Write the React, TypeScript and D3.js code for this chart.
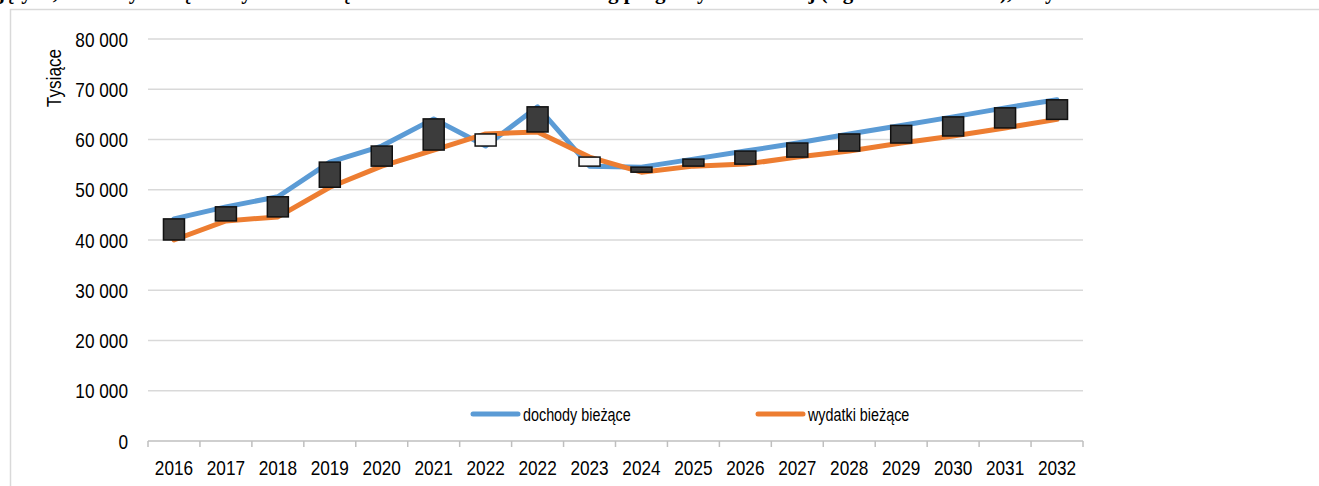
import React from "react";
import * as d3 from "d3";

const categories = ["2016","2017","2018","2019","2020","2021","2022","2022","2023","2024","2025","2026","2027","2028","2029","2030","2031","2032"];
const dochody = [44200, 46600, 48600, 55500, 58700, 64100, 58700, 66500, 54700, 54500, 56100, 57700, 59300, 61100, 62800, 64500, 66300, 67900];
const wydatki = [40000, 43800, 44600, 50500, 54700, 57900, 61100, 61500, 56500, 53500, 54700, 55100, 56500, 57700, 59300, 60700, 62300, 64000];
const yTicks = [0, 10000, 20000, 30000, 40000, 50000, 60000, 70000, 80000];
const seriesNames = ["dochody bieżące", "wydatki bieżące"];
const titleText = "jętych, dochody bieżące i wydatki bieżące w latach 2016–2032 według prognozy wieloletniej (wg stanu na 2022 r.), w tys. zł";

const W = 1319, H = 486;
const FONT = "'Liberation Sans', Arial, sans-serif";
const NARROW = 0.82;
const BLUE = "#5B9BD5", ORANGE = "#ED7D31", GRID = "#d9d9d9";

function NText(props: { x: number; y: number; size: number; anchor?: string; rotate?: number; children: React.ReactNode }) {
  const { x, y, size, anchor = "start", rotate = 0, children } = props;
  return (
    <text transform={`translate(${x},${y}) rotate(${rotate}) scale(${NARROW},1)`} textAnchor={anchor}
      fontFamily={FONT} fontSize={size} fill="#000">{children}</text>
  );
}

export default function App() {
  const idx = categories.map((_, i) => i);
  const x = d3.scaleBand<number>().domain(idx).range([148, 1083]).padding(0);
  const y = d3.scaleLinear().domain([0, 80000]).range([441, 39]);
  const cx = (i: number) => (x(i) as number) + x.bandwidth() / 2;
  const line = d3.line<number>().x((_, i) => cx(i)).y((d) => y(d));
  const fmt = (v: number) => d3.format(",")(v).replace(/,/g, " ");
  const boxW = 21;
  const bounds = idx.map((i) => x(i) as number).concat([1083]);

  return (
    <svg width={W} height={H} style={{ position: "absolute", left: 0, top: 0, background: "#fff" }}>
      <text x={-2} y={-1.5} fontFamily="'Liberation Serif', 'Times New Roman', serif" fontWeight="bold" fontSize={21} fill="#000">{titleText}</text>
      <line x1={10} x2={W} y1={9.5} y2={9.5} stroke={GRID} strokeWidth={1.5} />
      <line x1={10.5} x2={10.5} y1={9} y2={H} stroke={GRID} strokeWidth={1.5} />
      {yTicks.map((t) => (
        <g key={t}>
          {t > 0 && <line x1={148} x2={1083} y1={y(t)} y2={y(t)} stroke={GRID} strokeWidth={1.5} />}
          <NText x={128} y={y(t) + 7.5} size={21} anchor="end">{fmt(t)}</NText>
        </g>
      ))}
      <line x1={148} x2={1083} y1={y(0)} y2={y(0)} stroke="#bfbfbf" strokeWidth={1.5} />
      {bounds.map((b, i) => (
        <line key={i} x1={b} x2={b} y1={y(0)} y2={y(0) + 6} stroke="#bfbfbf" strokeWidth={1.5} />
      ))}
      {categories.map((c, i) => (
        <NText key={i} x={cx(i)} y={475} size={21} anchor="middle">{c}</NText>
      ))}
      <NText x={61} y={78} size={21} anchor="middle" rotate={-90}>Tysiące</NText>
      <path d={line(dochody) || ""} fill="none" stroke={BLUE} strokeWidth={5} strokeLinejoin="round" strokeLinecap="round" />
      <path d={line(wydatki) || ""} fill="none" stroke={ORANGE} strokeWidth={5} strokeLinejoin="round" strokeLinecap="round" />
      {idx.map((i) => {
        const a = dochody[i], b = wydatki[i];
        const top = y(Math.max(a, b)), bot = y(Math.min(a, b));
        const up = a > b;
        return (
          <rect key={i} x={cx(i) - boxW / 2} y={top} width={boxW} height={Math.max(1, bot - top)}
            fill={up ? "#3c3c3c" : "#f8f8f8"} stroke="#111" strokeWidth={1.5} />
        );
      })}
      <line x1={473} x2={518} y1={414} y2={414} stroke={BLUE} strokeWidth={5} strokeLinecap="round" />
      <NText x={523} y={420.5} size={17.5}>{seriesNames[0]}</NText>
      <line x1={758} x2={803} y1={414} y2={414} stroke={ORANGE} strokeWidth={5} strokeLinecap="round" />
      <NText x={808} y={420.5} size={17.5}>{seriesNames[1]}</NText>
    </svg>
  );
}
